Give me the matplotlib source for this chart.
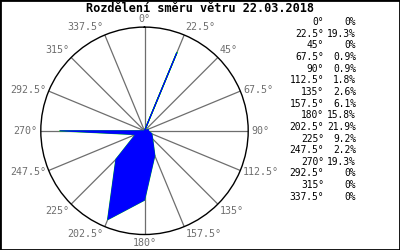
import numpy as np
import matplotlib
matplotlib.use("Agg")
import matplotlib.pyplot as plt

# smery (stupne) a cetnosti (%)
smery = [0, 22.5, 45, 67.5, 90, 112.5, 135, 157.5,
         180, 202.5, 225, 247.5, 270, 292.5, 315, 337.5]
cetnost = [0, 19.3, 0, 0.9, 0.9, 1.8, 2.6, 6.1,
           15.8, 21.9, 9.2, 2.2, 19.3, 0, 0, 0]
popisky = ["0°", "22.5°", "45°", "67.5°", "90°", "112.5°", "135°", "157.5°",
           "180°", "202.5°", "225°", "247.5°", "270°", "292.5°", "315°", "337.5°"]
titulek = "Rozdělení směru větru 22.03.2018"

MONO = "DejaVu Sans Mono"
SEDA = "#6e6e6e"

fig = plt.figure(figsize=(4, 2.5), dpi=100)
fig.patch.set_facecolor("white")

# polarni osa - stred cca (144.5, 130.7) px, polomer ~104 px
ax = fig.add_axes([0.102, 0.062, 0.5185, 0.8296], projection="polar")
ax.set_theta_zero_location("N")
ax.set_theta_direction(-1)
rmax = max(cetnost) * 1.08
ax.set_ylim(0, rmax)
ax.set_xticks([])
ax.set_yticks([])
ax.grid(False)
ax.spines["polar"].set_color("black")
ax.spines["polar"].set_linewidth(1.0)

th = np.radians(smery)

# paprsky
for t in th:
    ax.plot([t, t], [0, rmax], color=SEDA, lw=0.9, zorder=1)

# ruzice vetru
tt = np.append(th, th[0])
rr = np.append(cetnost, cetnost[0])
ax.plot(tt, rr, color="#00e000", lw=1.0, zorder=2)
ax.fill(tt, rr, color="#0000ff", lw=0.6, ec="#0000ff", zorder=3)

# popisky smeru
for t, s in zip(th, popisky):
    sn, cs = np.sin(t), np.cos(t)
    ha = "left" if sn > 0.01 else ("right" if sn < -0.01 else "center")
    va = "bottom" if cs > 0.5 else ("top" if cs < -0.5 else "center")
    ax.text(t, rmax * 1.03, s, ha=ha, va=va, fontsize=7.2, family=MONO,
            color=SEDA, clip_on=False)

# tabulka vpravo
y0 = 0.912
dy = 0.0466
for i, (s, c) in enumerate(zip(popisky, cetnost)):
    y = y0 - i * dy
    fig.text(0.81, y, s, ha="right", va="center", fontsize=6.9,
             family=MONO, color="black")
    pct = f"{c:g}%"
    fig.text(0.89, y, pct, ha="right", va="center", fontsize=6.9,
             family=MONO, color="black")

fig.text(0.5, 0.965, titulek, ha="center", va="center", fontsize=8.6,
         family=MONO, weight="bold", color="black")

# ramecek
fig.add_artist(plt.Rectangle((0, 0), 1, 1, transform=fig.transFigure,
                             fill=False, ec="black", lw=2.0))

fig.savefig("out.png", dpi=100, facecolor="white")
